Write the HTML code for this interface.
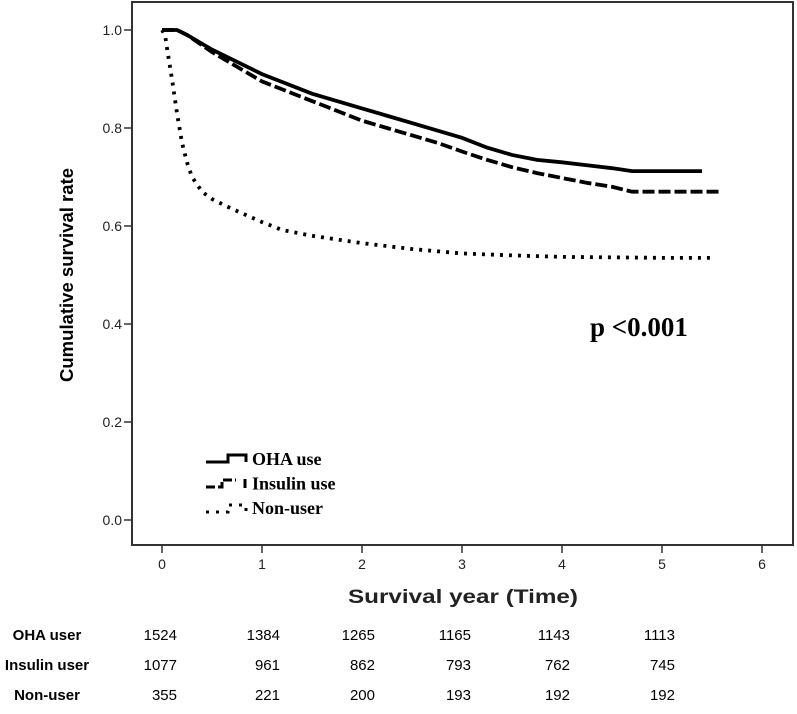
<!DOCTYPE html>
<html><head><meta charset="utf-8"><style>
body{margin:0;background:#fff;width:797px;height:714px;overflow:hidden}
svg{display:block}
</style></head><body>
<svg id="chart" width="797" height="714" xmlns="http://www.w3.org/2000/svg">
<g id="plot"></g>
</svg>
<script>
const xTicks=[0,1,2,3,4,5,6];
const yTicks=[0.0,0.2,0.4,0.6,0.8,1.0];
const ohaT=[0,0.15,0.25,0.5,0.75,1,1.25,1.5,1.75,2,2.25,2.5,2.75,3,3.25,3.5,3.75,4,4.25,4.5,4.7,5.4];
const ohaS=[1,1,0.99,0.96,0.935,0.91,0.89,0.87,0.855,0.84,0.825,0.81,0.795,0.78,0.76,0.745,0.735,0.73,0.724,0.718,0.712,0.712];
const insT=[0,0.15,0.25,0.5,0.75,1,1.25,1.5,1.75,2,2.25,2.5,2.75,3,3.25,3.5,3.75,4,4.25,4.5,4.7,5.6];
const insS=[1,1,0.99,0.955,0.925,0.895,0.875,0.855,0.835,0.815,0.8,0.785,0.77,0.752,0.735,0.72,0.708,0.698,0.688,0.68,0.67,0.67];
const nonT=[0,0.03,0.06,0.1,0.15,0.2,0.25,0.3,0.4,0.5,0.7,1,1.2,1.5,2,2.5,3,3.5,4,4.5,5,5.5];
const nonS=[1,0.99,0.95,0.9,0.83,0.77,0.73,0.7,0.67,0.655,0.635,0.608,0.592,0.58,0.565,0.553,0.544,0.54,0.537,0.536,0.535,0.535];
const rowLabels=["OHA user","Insulin user","Non-user"];
const ohaRisk=[1524,1384,1265,1165,1143,1113];
const insRisk=[1077,961,862,793,762,745];
const nonRisk=[355,221,200,193,192,192];

const NS="http://www.w3.org/2000/svg";
const svg=document.getElementById('chart');
const X=t=>162+t*100;
const Y=v=>520-v*490;
function mk(tag,attrs,parent){const e=document.createElementNS(NS,tag);for(const k in attrs)e.setAttribute(k,attrs[k]);(parent||svg).appendChild(e);return e;}

const frame=mk('rect',{x:132,y:2,width:661,height:543,fill:'none',stroke:'#333','stroke-width':2});



yTicks.forEach(v=>{
  const l=mk('line',{x1:124,x2:132,y1:Y(v),y2:Y(v),stroke:'#333','stroke-width':1.5});
  
  
  const t=mk('text',{x:122,y:Y(v)+5,'text-anchor':'end','font-family':'Liberation Sans, sans-serif','font-size':14,fill:'#222'});
  t.textContent=v.toFixed(1);
  
  
});
xTicks.forEach(v=>{
  const l=mk('line',{x1:X(v),x2:X(v),y1:545,y2:553,stroke:'#333','stroke-width':1.5});
  
  
  const t=mk('text',{x:X(v),y:569,'text-anchor':'middle','font-family':'Liberation Sans, sans-serif','font-size':14,fill:'#222'});
  t.textContent=v;
  
  
});

function curve(T,S,dash,name){
  let d='M'+X(T[0])+','+Y(S[0]);
  for(let i=1;i<T.length;i++)d+=' L'+X(T[i])+','+Y(S[i]);
  const p=mk('path',{d:d,fill:'none',stroke:'#000','stroke-width':3.8,'stroke-dasharray':dash});
  
  
}
curve(ohaT,ohaS,'none','oha-curve');
curve(insT,insS,'12,4','insulin-curve');
curve(nonT,nonS,'3,6','non-user-curve');

const yt=mk('text',{x:0,y:0,transform:'translate(73,275) rotate(-90)','text-anchor':'middle','font-family':'Liberation Sans, sans-serif','font-size':18,'font-weight':'bold',textLength:214,lengthAdjust:'spacingAndGlyphs',fill:'#000'});
yt.textContent='Cumulative survival rate';


const xt=mk('text',{x:463,y:603,'text-anchor':'middle','font-family':'Liberation Sans, sans-serif','font-size':19,'font-weight':'bold',textLength:230,lengthAdjust:'spacingAndGlyphs',fill:'#222'});
xt.textContent='Survival year (Time)';


const pv=mk('text',{x:590,y:336,'font-family':'Liberation Serif, serif','font-size':27,'font-weight':'bold',fill:'#000'});
pv.textContent='p <0.001';



const legend=[['OHA use','M206,462 L228,462 L228,455 L246,455 L246,462','none'],['Insulin use','M206,487 L222,487 L222,480 L236,480 M245,479 L245,489','9,3'],['Non-user','M206,512 L228,512 L228,505 L246,505 L246,512','3,7']];
legend.forEach((e,i)=>{
  const p=mk('path',{d:e[1],fill:'none',stroke:'#000','stroke-width':3,'stroke-dasharray':e[2]});
  
  
  const t=mk('text',{x:252,y:465+i*24.5,'font-family':'Liberation Serif, serif','font-size':18,'font-weight':'bold',fill:'#000'});
  t.textContent=e[0];
  
  
});

const colR=[177,280,375,471,570,675];
[ohaRisk,insRisk,nonRisk].forEach((row,r)=>{
  const y=640+r*30;
  const lb=mk('text',{x:47,y:y,'text-anchor':'middle','font-family':'Liberation Sans, sans-serif','font-size':15,'font-weight':'bold',fill:'#000'});
  lb.textContent=rowLabels[r];
  
  
  row.forEach((n,c)=>{
    const t=mk('text',{x:colR[c],y:y,'text-anchor':'end','font-family':'Liberation Sans, sans-serif','font-size':15,fill:'#000'});
    t.textContent=n;
    
    
  });
});
</script>
</body></html>
